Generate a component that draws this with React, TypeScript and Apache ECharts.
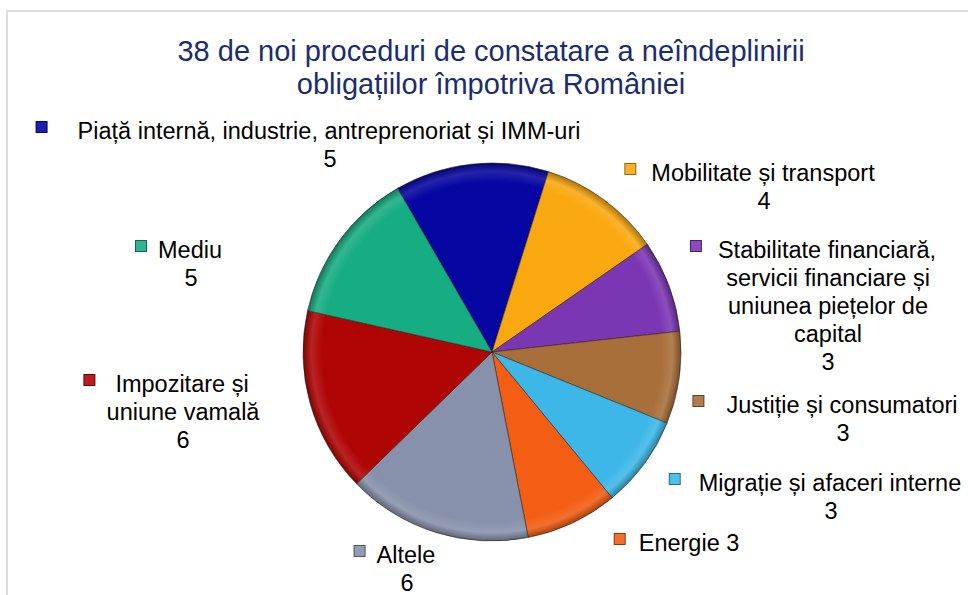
import React, { useEffect, useRef } from 'react';
import * as echarts from 'echarts';

const titleLines = ['38 de noi proceduri de constatare a neîndeplinirii', 'obligațiilor împotriva României'];

const categories = [
  'Piață internă, industrie, antreprenoriat și IMM-uri',
  'Mobilitate și transport',
  'Stabilitate financiară,\nservicii financiare și\nuniunea piețelor de\ncapital',
  'Justiție și consumatori',
  'Migrație și afaceri interne',
  'Energie',
  'Altele',
  'Impozitare și\nuniune vamală',
  'Mediu',
];
const values = [5, 4, 3, 3, 3, 3, 6, 6, 5];
const colors = ['#0606a2', '#faa80f', '#7b36b4', '#a86f3a', '#3db7e8', '#f35d14', '#8891ab', '#b00505', '#17ad82'];

// label placement: centre x of text, centre y of first line, gap between key and text, value on same line
const labelPlace = [
  { x: 330, y: 131, gap: 31, inline: false },
  { x: 764, y: 173, gap: 16, inline: false },
  { x: 828, y: 250, gap: 17, inline: false },
  { x: 843, y: 405, gap: 23, inline: false },
  { x: 831, y: 483, gap: 19, inline: false },
  { x: 690, y: 543, gap: 14, inline: true },
  { x: 407, y: 555, gap: 12, inline: false },
  { x: 183, y: 384, gap: 21, inline: false },
  { x: 191, y: 250, gap: 12, inline: false },
];

const FONT = '"Liberation Sans", Arial, sans-serif';
const CX = 492;
const CY = 352;
const R = 189;
const LH = 28;
const KEY_RAISE = 4;

function shade(hex: string, f: number): string {
  const n = parseInt(hex.slice(1), 16);
  let r = (n >> 16) & 255, g = (n >> 8) & 255, b = n & 255;
  if (f < 0) {
    r = Math.round(r * (1 + f)); g = Math.round(g * (1 + f)); b = Math.round(b * (1 + f));
  } else {
    r = Math.round(r + (255 - r) * f); g = Math.round(g + (255 - g) * f); b = Math.round(b + (255 - b) * f);
  }
  return `rgb(${r},${g},${b})`;
}

export default function App() {
  const ref = useRef<HTMLDivElement>(null);
  useEffect(() => {
    if (!ref.current) return;
    const chart = echarts.init(ref.current, null, { renderer: 'svg' });
    const data = categories.map((name, i) => ({
      name,
      value: values[i],
      itemStyle: {
        color: new echarts.graphic.RadialGradient(CX, CY, R, [
          { offset: 0, color: colors[i] },
          { offset: 0.9, color: colors[i] },
          { offset: 0.955, color: shade(colors[i], 0.12) },
          { offset: 1, color: shade(colors[i], -0.3) },
        ], true),
      },
      label: {
        rich: {
          m: {
            width: 10, height: 10, backgroundColor: shade(colors[i], 0.1),
            borderColor: shade(colors[i], -0.4), borderWidth: 1, align: 'center', verticalAlign: 'middle',
          },
          g: { width: labelPlace[i].gap, align: 'center', fontSize: 10 },
          p: { width: labelPlace[i].gap + 12, align: 'center', fontSize: 10 },
          t: {
            fontSize: 23.5, lineHeight: LH, color: '#000', fontFamily: FONT, align: 'center',
            padding: [KEY_RAISE * 2, 0, 0, 0],
          },
        },
      },
    }));

    chart.setOption({
      animation: false,
      backgroundColor: '#ffffff',
      graphic: [
        {
          type: 'rect',
          shape: { x: 7, y: 11, width: 1000, height: 1000 },
          style: { fill: 'none', stroke: '#dcdcdc', lineWidth: 2 },
          silent: true,
        },
        {
          type: 'text',
          x: 491,
          y: 34,
          style: {
            text: titleLines.join('\n'),
            fill: '#1c2d6e',
            font: `29px ${FONT}`,
            lineHeight: 33,
            align: 'center',
            verticalAlign: 'top',
          },
        },
      ],
      series: [
        {
          type: 'pie',
          center: [CX, CY],
          radius: R,
          startAngle: 120,
          clockwise: true,
          avoidLabelOverlap: false,
          itemStyle: { borderColor: 'rgba(40,30,20,0.55)', borderWidth: 1 },
          label: {
            show: true,
            position: 'outside',
            color: '#000',
            fontFamily: FONT,
            fontSize: 23.5,
            lineHeight: LH,
            formatter: (p: any) => {
              const i = p.dataIndex;
              const lp = labelPlace[i];
              const lines = String(p.name).split('\n');
              let first = lines[0];
              const rest = lines.slice(1);
              if (lp.inline) first = first + ' ' + p.value;
              else rest.push(String(p.value));
              const out = [`{m|}{g|}{t|${first}}{p|}`];
              rest.forEach((l) => out.push(`{t|${l}}`));
              return out.join('\n');
            },
          },
          labelLine: { show: false },
          labelLayout: (params: any) => {
            const lp = labelPlace[params.dataIndex];
            return { x: lp.x, y: lp.y - KEY_RAISE - LH / 2, align: 'center', verticalAlign: 'top', hideOverlap: false };
          },
          emphasis: { disabled: true },
          data,
        },
      ],
    });
    return () => chart.dispose();
  }, []);
  return <div ref={ref} style={{ position: 'absolute', left: 0, top: 0, width: 968, height: 595 }} />;
}
